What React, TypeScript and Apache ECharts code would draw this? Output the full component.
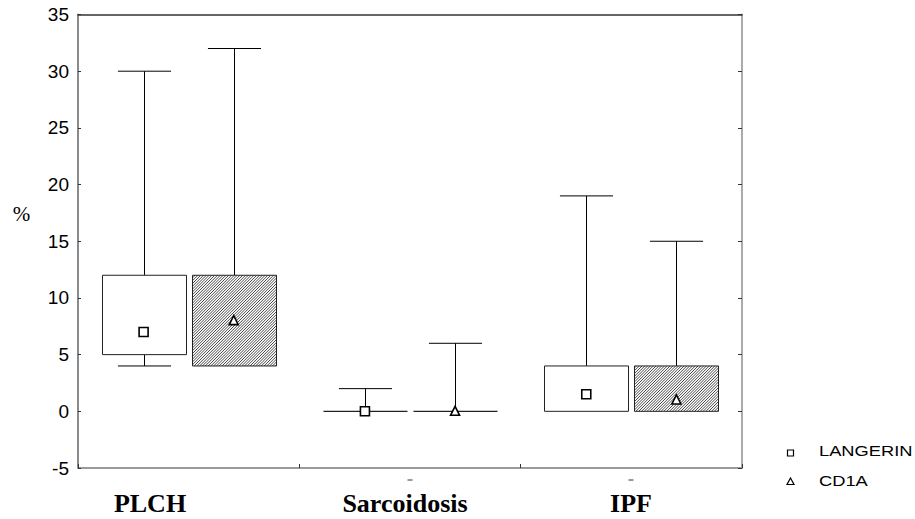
import React, { useEffect, useRef } from "react";
import * as echarts from "echarts";

const categories = ["PLCH", "Sarcoidosis", "IPF"];
const categoryLabelX = [150, 405, 631];
const seriesNames = ["LANGERIN", "CD1A"];

const langerinMin = [4, 0, 0];
const langerinQ1 = [5, 0, 0];
const langerinMid = [7, 0, 1.5];
const langerinQ3 = [12, 0, 4];
const langerinMax = [30, 2, 19];

const cd1aMin = [4, 0, 0];
const cd1aQ1 = [4, 0, 0];
const cd1aMid = [8, 0, 1];
const cd1aQ3 = [12, 0, 4];
const cd1aMax = [32, 6, 15];

const yMin = -5;
const yMax = 35;
const yStep = 5;

function buildData() {
  const rows: number[][] = [];
  categories.forEach((_, i) => {
    rows.push([i, 0, langerinMin[i], langerinQ1[i], langerinMid[i], langerinQ3[i], langerinMax[i]]);
    rows.push([i, 1, cd1aMin[i], cd1aQ1[i], cd1aMid[i], cd1aQ3[i], cd1aMax[i]]);
  });
  return rows;
}

function renderItem(params: any, api: any) {
  const cat = api.value(0);
  const s = api.value(1);
  const vMin = api.value(2);
  const vQ1 = api.value(3);
  const vMid = api.value(4);
  const vQ3 = api.value(5);
  const vMax = api.value(6);
  const center = api.coord([cat, 0])[0];
  const band = api.size([1, 0])[0];
  const cx = center + (s === 0 ? -1 : 1) * band * 0.2036;
  const w = band * 0.38;
  const capW = band * 0.24;
  const yMinP = api.coord([cat, vMin])[1];
  const yQ1 = api.coord([cat, vQ1])[1];
  const yMid = api.coord([cat, vMid])[1];
  const yQ3 = api.coord([cat, vQ3])[1];
  const yMaxP = api.coord([cat, vMax])[1];
  const x0 = Math.round(cx - w / 2) + 0.5;
  const x1 = Math.round(cx + w / 2) + 0.5;
  const xc = Math.round(cx) + 0.5;
  const children: any[] = [];
  const lineStyle = { stroke: "#000", lineWidth: 1 };
  children.push({ type: "line", shape: { x1: xc, y1: yQ3, x2: xc, y2: yMaxP }, style: lineStyle });
  children.push({ type: "line", shape: { x1: xc - capW / 2, y1: yMaxP, x2: xc + capW / 2, y2: yMaxP }, style: lineStyle });
  if (vMin < vQ1) {
    children.push({ type: "line", shape: { x1: xc, y1: yQ1, x2: xc, y2: yMinP }, style: lineStyle });
    children.push({ type: "line", shape: { x1: xc - capW / 2, y1: yMinP, x2: xc + capW / 2, y2: yMinP }, style: lineStyle });
  }
  const top = yQ3;
  const bot = yQ1;
  if (bot - top > 0.5) {
    children.push({ type: "rect", shape: { x: x0, y: top, width: x1 - x0, height: bot - top }, style: { fill: "#fff", stroke: "none" } });
    if (s === 1) {
      const step = 2.8;
      const cStart = Math.ceil((x0 + top) / step) * step;
      for (let c = cStart; c <= x1 + bot; c += step) {
        const xa = Math.max(x0, c - bot);
        const xb = Math.min(x1, c - top);
        if (xb > xa) {
          children.push({ type: "line", shape: { x1: xa, y1: c - xa, x2: xb, y2: c - xb }, style: { stroke: "#333", lineWidth: 0.9 } });
        }
      }
    }
    children.push({ type: "rect", shape: { x: x0, y: top, width: x1 - x0, height: bot - top }, style: { fill: "none", stroke: "#222", lineWidth: 1 } });
  } else {
    children.push({ type: "line", shape: { x1: x0, y1: top, x2: x1, y2: top }, style: { stroke: "#222", lineWidth: 1.2 } });
  }
  if (s === 0) {
    children.push({ type: "rect", shape: { x: cx - 4.5, y: yMid - 4.5, width: 9, height: 9 }, style: { fill: "#fff", stroke: "#000", lineWidth: 1.6 } });
  } else {
    children.push({ type: "polygon", shape: { points: [[cx, yMid - 5], [cx - 4.5, yMid + 4], [cx + 4.5, yMid + 4]] }, style: { fill: "#fff", stroke: "#000", lineWidth: 1.6 } });
  }
  return { type: "group", children };
}

export default function App() {
  const ref = useRef<HTMLDivElement>(null);
  useEffect(() => {
    if (!ref.current) return;
    const chart = echarts.init(ref.current, null, { renderer: "svg" });
    const graphics: any[] = [];
    categories.forEach((c, i) => {
      graphics.push({
        type: "text", x: categoryLabelX[i], y: 503,
        style: { text: c, font: "bold 26px 'Liberation Serif', 'Times New Roman', serif", fill: "#000", textAlign: "center", textVerticalAlign: "middle" },
      });
    });
    [410, 631].forEach((x) => {
      graphics.push({ type: "line", shape: { x1: x - 2.5, y1: 480, x2: x + 2.5, y2: 480 }, style: { stroke: "#333", lineWidth: 1 } });
    });
    graphics.push({
      type: "text", x: 21.5, y: 214,
      style: { text: "%", font: "21px 'Liberation Serif', 'Times New Roman', serif", fill: "#000", textAlign: "center", textVerticalAlign: "middle" },
    });
    graphics.push({ type: "rect", shape: { x: 787.5, y: 450, width: 6, height: 6 }, style: { fill: "#fff", stroke: "#000", lineWidth: 1.2 } });
    graphics.push({ type: "polygon", shape: { points: [[790.5, 478], [787, 484.5], [794, 484.5]] }, style: { fill: "#fff", stroke: "#000", lineWidth: 1.2 } });
    [451.5, 481.5].forEach((y, i) => {
      graphics.push({
        type: "text", x: 819, y, scaleX: 1.22, scaleY: 1,
        style: { text: seriesNames[i], x: 0, y: 0, font: "15px 'Liberation Sans', Arial, sans-serif", fill: "#000", textAlign: "left", textVerticalAlign: "middle" },
      });
    });

    chart.setOption({
      animation: false,
      backgroundColor: "#fff",
      grid: { left: 78, right: 173, top: 14.5, bottom: 51 },
      xAxis: [
        {
          type: "category", data: categories, position: "bottom",
          axisLine: { show: true, onZero: false, lineStyle: { color: "#9a9a9a", width: 2 } },
          axisTick: { show: true, inside: true, length: 4, lineStyle: { color: "#333" } },
          axisLabel: { show: false }, splitLine: { show: false },
        },
        {
          type: "category", data: categories, position: "top",
          axisLine: { show: true, onZero: false, lineStyle: { color: "#333", width: 1.5 } },
          axisTick: { show: false }, axisLabel: { show: false }, splitLine: { show: false },
        },
      ],
      yAxis: [
        {
          type: "value", min: yMin, max: yMax, interval: yStep, position: "left",
          axisLine: { show: true, onZero: false, lineStyle: { color: "#8a8a8a", width: 2 } },
          axisTick: { show: true, inside: true, length: 3, lineStyle: { color: "#333" } },
          axisLabel: { show: true, fontSize: 19, color: "#000", fontFamily: "'Liberation Sans', Arial, sans-serif", margin: 9 },
          splitLine: { show: false },
        },
        {
          type: "value", min: yMin, max: yMax, interval: yStep, position: "right",
          axisLine: { show: true, onZero: false, lineStyle: { color: "#aaa", width: 2 } },
          axisTick: { show: true, inside: true, length: 4, lineStyle: { color: "#333" } },
          axisLabel: { show: false }, splitLine: { show: false },
        },
      ],
      series: [
        {
          type: "custom", xAxisIndex: 0, yAxisIndex: 0,
          renderItem, data: buildData(),
          encode: { x: 0, y: [2, 3, 4, 5, 6] },
          clip: false, silent: true,
        },
      ],
      graphic: graphics,
    });
    return () => chart.dispose();
  }, []);
  return <div ref={ref} style={{ position: "fixed", left: 0, top: 0, width: 915, height: 519 }} />;
}
